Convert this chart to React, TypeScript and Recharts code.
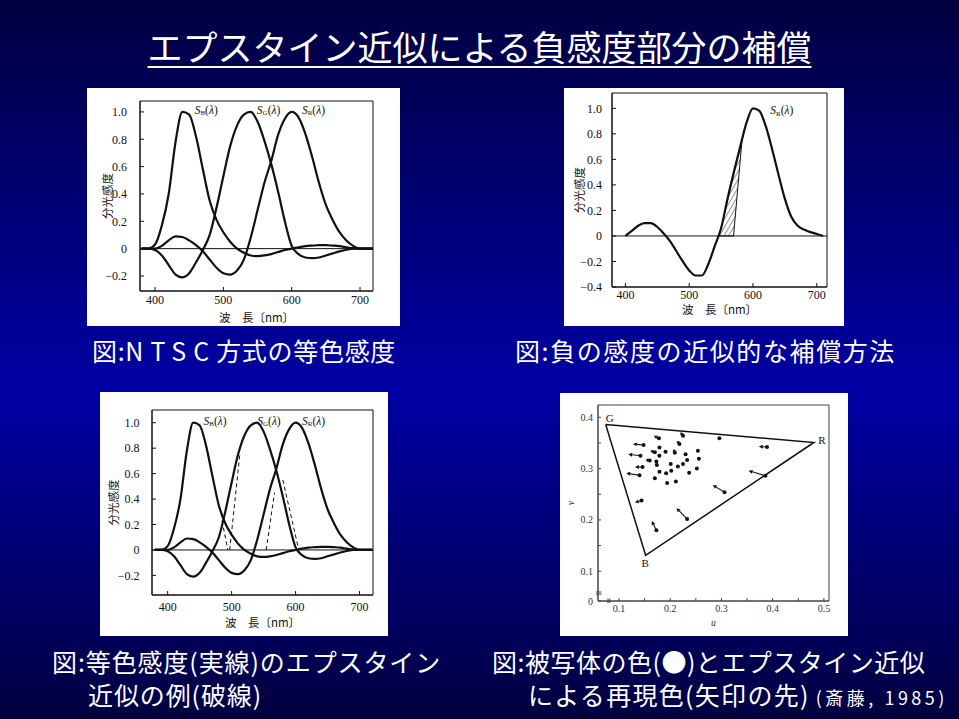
import React from 'react';
import {
  ComposedChart,
  Line,
  Area,
  XAxis,
  YAxis,
  ReferenceLine,
  ReferenceArea,
  ReferenceDot,
} from 'recharts';

// NTSC colour-matching curves (panels 1 and 3)
const wavelengths = [380, 390, 400, 410, 420, 430, 440, 450, 460, 470, 480, 490, 500, 510, 520, 530, 540, 550, 560, 570, 580, 590, 600, 610, 620, 630, 640, 650, 660, 670, 680, 690, 700, 710, 720];
const sbValues = [0, 0, 0.03, 0.17, 0.4, 0.78, 1.0, 0.98, 0.82, 0.58, 0.35, 0.21, 0.12, 0.05, 0.0, -0.03, -0.05, -0.055, -0.05, -0.04, -0.025, -0.01, 0.0, 0.01, 0.018, 0.022, 0.025, 0.025, 0.022, 0.018, 0.01, 0.003, 0, 0, 0];
const sgValues = [0, 0, -0.01, -0.05, -0.12, -0.19, -0.21, -0.18, -0.1, -0.01, 0.1, 0.3, 0.53, 0.75, 0.9, 0.98, 1.0, 0.93, 0.79, 0.62, 0.42, 0.2, 0.02, -0.04, -0.065, -0.07, -0.065, -0.05, -0.035, -0.02, -0.008, 0, 0, 0, 0];
const srValues = [0, 0, 0, 0.02, 0.06, 0.09, 0.085, 0.06, 0.025, -0.02, -0.08, -0.14, -0.18, -0.19, -0.16, -0.08, 0.08, 0.28, 0.48, 0.64, 0.83, 0.95, 1.0, 0.96, 0.84, 0.67, 0.48, 0.32, 0.21, 0.12, 0.06, 0.02, 0, 0, 0];

// single red curve with the compensated part (panel 2)
const skWavelengths = [400, 410, 420, 430, 440, 450, 460, 470, 480, 490, 500, 510, 520, 530, 540, 550, 560, 570, 580, 590, 600, 610, 620, 630, 640, 650, 660, 670, 680, 690, 700, 710];
const skValues = [0, 0.04, 0.08, 0.1, 0.1, 0.07, 0.02, -0.04, -0.12, -0.2, -0.27, -0.31, -0.31, -0.22, -0.08, 0.06, 0.29, 0.5, 0.7, 0.89, 1.0, 0.98, 0.86, 0.68, 0.48, 0.29, 0.15, 0.08, 0.05, 0.03, 0.015, 0];
const hatchWavelengths = [546, 552, 557, 562, 567, 569.5, 572, 575, 578, 581, 583];
const hatchTop = [0, 0.1, 0.21, 0.32, 0.43, 0.49, 0.54, 0.6, 0.66, 0.72, 0.76];
const hatchLow = [0, 0, 0, 0, 0, 0, 0.14, 0.31, 0.48, 0.65, 0.76];

// Epstein approximation (dashed) segments, panel 3
const epsSegWl = [[485, 494], [497, 513], [554, 567], [580, 605]];
const epsSegV = [[0.23, 0], [0, 0.76], [0, 0.45], [0.55, 0]];

// u-v diagram (panel 4)
const triangleU = [0.074, 0.4805, 0.152, 0.074];
const triangleV = [0.386, 0.351, 0.131, 0.386];
const objU = [0.178, 0.225, 0.296, 0.148, 0.218, 0.389, 0.179, 0.17, 0.191, 0.209, 0.254, 0.142, 0.23, 0.179, 0.256, 0.16, 0.173, 0.201, 0.233, 0.146, 0.174, 0.215, 0.225, 0.179, 0.192, 0.202, 0.237, 0.252, 0.14, 0.17, 0.194, 0.211, 0.386, 0.306, 0.144, 0.233, 0.173];
const objV = [0.359, 0.364, 0.359, 0.346, 0.348, 0.342, 0.341, 0.332, 0.333, 0.331, 0.335, 0.325, 0.328, 0.325, 0.319, 0.316, 0.314, 0.309, 0.317, 0.303, 0.307, 0.304, 0.309, 0.294, 0.291, 0.296, 0.292, 0.3, 0.287, 0.281, 0.272, 0.275, 0.286, 0.254, 0.238, 0.202, 0.18];
const tipU = [0.168, 0.22, 0.296, 0.127, 0.213, 0.373, 0.179, 0.161, 0.187, 0.207, 0.254, 0.118, 0.23, 0.175, 0.256, 0.152, 0.173, 0.201, 0.233, 0.131, 0.17, 0.215, 0.225, 0.179, 0.192, 0.202, 0.237, 0.252, 0.114, 0.17, 0.194, 0.211, 0.353, 0.283, 0.131, 0.212, 0.164];
const tipV = [0.364, 0.371, 0.359, 0.348, 0.354, 0.343, 0.341, 0.335, 0.333, 0.338, 0.335, 0.328, 0.328, 0.326, 0.319, 0.317, 0.314, 0.309, 0.317, 0.303, 0.309, 0.304, 0.309, 0.294, 0.291, 0.296, 0.292, 0.3, 0.291, 0.281, 0.272, 0.275, 0.296, 0.268, 0.234, 0.223, 0.198];

const wlTicks = [400, 500, 600, 700];
const specTicks = [-0.2, 0, 0.2, 0.4, 0.6, 0.8, 1.0];
const skTicks = [-0.4, -0.2, 0, 0.2, 0.4, 0.6, 0.8, 1.0];
const uTicks = [0.1, 0.15, 0.2, 0.25, 0.3, 0.35, 0.4, 0.45, 0.5];
const uDomain = [0.059, 0.51];
const vDomain = [0.042, 0.424];
const vTicks = [vDomain[0], 0.1, 0.15, 0.2, 0.25, 0.3, 0.35, 0.4];

const specRows = wavelengths.map((wl, i) => ({ wl, sb: sbValues[i], sg: sgValues[i], sr: srValues[i] }));
const skRows = skWavelengths.map((wl, i) => ({ wl, sk: skValues[i] }));
const hatchRows = hatchWavelengths.map((wl, i) => ({ wl, band: [hatchLow[i], hatchTop[i]] }));
const epsRows = epsSegWl.map((seg, k) => seg.map((wl, j) => ({ wl, v: epsSegV[k][j] })));
const triangleRows = triangleU.map((u, i) => ({ u, v: triangleV[i] }));
const objRows = objU.map((u, i) => ({ u, v: objV[i] }));
const arrowRows = objU
  .map((u, i) => ({ u0: u, v0: objV[i], u1: tipU[i], v1: tipV[i] }))
  .filter((a) => Math.hypot(a.u1 - a.u0, a.v1 - a.v0) > 0.004);

const serif = '"Liberation Serif", "DejaVu Serif", serif';
const jp = '"Noto Sans CJK JP", sans-serif';
const ink = '#111';
const tickFont = { fontFamily: serif, fontSize: 12, fill: ink };
const axisJp = { fontFamily: jp, fontSize: 11.5, fill: ink };

const fmtSpec = (v: number) => (Math.abs(v) < 1e-9 ? '0' : v < 0 ? `−${Math.abs(v).toFixed(1)}` : v.toFixed(1));
const fmtU = (v: number) => (Math.round(v * 100) % 10 === 0 ? v.toFixed(1) : '');
const fmtV = (v: number) => (v < 0.05 ? '0' : Math.round(v * 100) % 10 === 0 ? v.toFixed(1) : '');

const sLabel = (sub: string) => (p: any) => {
  const vb = p?.viewBox ?? {};
  const x = vb.x ?? p.x;
  const y = vb.y ?? p.y;
  return (
    <text x={x} y={y} fontFamily={serif} fontSize={11.5} fill={ink}>
      <tspan fontStyle="italic">S</tspan>
      <tspan fontSize={7} dy={1.5}>{sub}</tspan>
      <tspan dy={-1.5}>(</tspan>
      <tspan fontStyle="italic">λ</tspan>
      <tspan>)</tspan>
    </text>
  );
};

const arrowShape = (p: any) => {
  const { x1, y1, x2, y2 } = p;
  const dx = x2 - x1;
  const dy = y2 - y1;
  const len = Math.hypot(dx, dy);
  if (!len) return <g />;
  const ux = dx / len;
  const uy = dy / len;
  const hl = Math.min(4, len * 0.6);
  const hw = 2;
  const bx = x2 - ux * hl;
  const by = y2 - uy * hl;
  return (
    <g>
      <line x1={x1} y1={y1} x2={bx} y2={by} stroke={ink} strokeWidth={1.1} />
      <polygon points={`${x2},${y2} ${bx - uy * hw},${by + ux * hw} ${bx + uy * hw},${by - ux * hw}`} fill={ink} />
    </g>
  );
};

const curve = { type: 'monotone' as const, stroke: ink, strokeWidth: 2.2, dot: false, isAnimationActive: false };

function NtscChart() {
  return (
    <ComposedChart width={313} height={238} data={specRows} margin={{ top: 13, right: 27, bottom: 0, left: 0 }}>
      <XAxis dataKey="wl" type="number" domain={[378, 719]} allowDataOverflow ticks={wlTicks} height={35} stroke={ink}
        tickSize={-4} tickMargin={8.6} tick={tickFont}
        label={{ value: '波　長〔nm〕', position: 'insideBottom', offset: 4, style: axisJp }} />
      <YAxis type="number" domain={[-0.31, 1.08]} allowDataOverflow ticks={specTicks} width={53} stroke={ink}
        tickSize={-4} tickMargin={17} tick={tickFont} tickFormatter={fmtSpec}
        label={{ value: '分光感度', angle: -90, position: 'insideLeft', offset: 21, style: { ...axisJp, textAnchor: 'middle' } }} />
      <ReferenceArea x1={378} x2={719} y1={-0.31} y2={1.08} fill="none" stroke={ink} ifOverflow="visible" />
      <ReferenceLine y={0} stroke={ink} strokeWidth={1} />
      <Line dataKey="sb" {...curve} />
      <Line dataKey="sg" {...curve} />
      <Line dataKey="sr" {...curve} />
      <ReferenceDot x={458} y={0.985} r={0} ifOverflow="visible" label={sLabel('B')} />
      <ReferenceDot x={549} y={0.985} r={0} ifOverflow="visible" label={sLabel('G')} />
      <ReferenceDot x={615} y={0.985} r={0} ifOverflow="visible" label={sLabel('R')} />
    </ComposedChart>
  );
}

function CompensationChart() {
  return (
    <ComposedChart width={280} height={238} margin={{ top: 5, right: 17, bottom: 0, left: 0 }}>
      <defs>
        <pattern id="hatch" width={4} height={4} patternUnits="userSpaceOnUse" patternTransform="rotate(30)">
          <line x1={0} y1={0} x2={0} y2={4} stroke={ink} strokeWidth={0.9} />
        </pattern>
      </defs>
      <XAxis dataKey="wl" type="number" domain={[379, 716]} allowDataOverflow ticks={wlTicks} height={39} stroke={ink}
        tickSize={-4} tickMargin={7.3} tick={tickFont}
        label={{ value: '波　長〔nm〕', position: 'insideBottom', offset: 12, style: axisJp }} />
      <YAxis type="number" domain={[-0.4, 1.12]} allowDataOverflow ticks={skTicks} width={48} stroke={ink}
        tickSize={-4} tickMargin={14} tick={tickFont} tickFormatter={fmtSpec}
        label={{ value: '分光感度', angle: -90, position: 'insideLeft', offset: 16, style: { ...axisJp, textAnchor: 'middle' } }} />
      <ReferenceArea x1={379} x2={716} y1={-0.4} y2={1.12} fill="none" stroke={ink} ifOverflow="visible" />
      <Area data={hatchRows} dataKey="band" type="linear" fill="url(#hatch)" fillOpacity={1} stroke={ink} strokeWidth={1} isAnimationActive={false} />
      <ReferenceLine y={0} stroke={ink} strokeWidth={1} />
      <Line data={skRows} dataKey="sk" {...curve} />
      <ReferenceDot x={627} y={0.955} r={0} ifOverflow="visible" label={sLabel('R')} />
    </ComposedChart>
  );
}

function EpsteinChart() {
  return (
    <ComposedChart width={288} height={244} data={specRows} margin={{ top: 18, right: 15, bottom: 0, left: 0 }}>
      <XAxis dataKey="wl" type="number" domain={[375.5, 721]} allowDataOverflow ticks={wlTicks} height={41} stroke={ink}
        tickSize={-4} tickMargin={11.3} tick={tickFont}
        label={{ value: '波　長〔nm〕', position: 'insideBottom', offset: 9, style: axisJp }} />
      <YAxis type="number" domain={[-0.354, 1.1]} allowDataOverflow ticks={specTicks} width={52} stroke={ink}
        tickSize={-4} tickMargin={16.4} tick={tickFont} tickFormatter={fmtSpec}
        label={{ value: '分光感度', angle: -90, position: 'insideLeft', offset: 14, style: { ...axisJp, textAnchor: 'middle' } }} />
      <ReferenceArea x1={375.5} x2={721} y1={-0.354} y2={1.1} fill="none" stroke={ink} ifOverflow="visible" />
      <ReferenceLine y={0} stroke={ink} strokeWidth={1} />
      <Line dataKey="sb" {...curve} />
      <Line dataKey="sg" {...curve} />
      <Line dataKey="sr" {...curve} />
      {epsRows.map((rows, k) => (
        <Line key={`eps-${k}`} data={rows} dataKey="v" type="linear" stroke={ink} strokeWidth={1}
          strokeDasharray="4 3" dot={false} isAnimationActive={false} />
      ))}
      <ReferenceDot x={456} y={0.984} r={0} ifOverflow="visible" label={sLabel('B')} />
      <ReferenceDot x={540} y={0.984} r={0} ifOverflow="visible" label={sLabel('G')} />
      <ReferenceDot x={610} y={0.984} r={0} ifOverflow="visible" label={sLabel('R')} />
    </ComposedChart>
  );
}

const uvTick = { fontFamily: serif, fontSize: 10, fill: '#333' };
const vertexStyle = { fontFamily: serif, fontSize: 11, fill: ink };

function UvChart() {
  return (
    <ComposedChart width={288} height={243} margin={{ top: 12, right: 19, bottom: 0, left: 0 }}>
      <XAxis dataKey="u" type="number" domain={uDomain} allowDataOverflow ticks={uTicks} height={35} stroke="#444"
        tickSize={-3} tickMargin={7} tick={uvTick} tickFormatter={fmtU}
        label={{ value: 'u', position: 'insideBottom', offset: 10, style: { fontFamily: serif, fontSize: 10, fontStyle: 'italic', fill: '#333' } }} />
      <YAxis dataKey="v" type="number" domain={vDomain} allowDataOverflow ticks={vTicks} width={38} stroke="#444"
        tickSize={-3} tickMargin={8} tick={uvTick} tickFormatter={fmtV}
        label={{ value: 'v', angle: -90, position: 'insideLeft', offset: 10, style: { fontFamily: serif, fontSize: 10, fontStyle: 'italic', fill: '#333', textAnchor: 'middle' } }} />
      <ReferenceArea x1={uDomain[0]} x2={uDomain[1]} y1={vDomain[0]} y2={vDomain[1]} fill="none" stroke="#444" ifOverflow="visible" />
      <ReferenceLine segment={[{ x: 0.055, y: 0.0595 }, { x: 0.066, y: 0.0595 }]} stroke="#444" ifOverflow="visible" />
      <ReferenceLine segment={[{ x: 0.055, y: 0.0555 }, { x: 0.066, y: 0.0555 }]} stroke="#444" ifOverflow="visible" />
      <ReferenceLine segment={[{ x: 0.0785, y: 0.038 }, { x: 0.0785, y: 0.047 }]} stroke="#444" ifOverflow="visible" />
      <ReferenceLine segment={[{ x: 0.082, y: 0.038 }, { x: 0.082, y: 0.047 }]} stroke="#444" ifOverflow="visible" />
      <Line data={triangleRows} dataKey="v" type="linear" stroke={ink} strokeWidth={1.5} dot={false} isAnimationActive={false} />
      {arrowRows.map((a, i) => (
        <ReferenceLine key={`ar-${i}`} segment={[{ x: a.u0, y: a.v0 }, { x: a.u1, y: a.v1 }]} shape={arrowShape} ifOverflow="visible" />
      ))}
      <Line data={objRows} dataKey="v" stroke="none" dot={{ r: 2, fill: ink, stroke: 'none' }} activeDot={false} isAnimationActive={false} />
      <ReferenceDot x={0.082} y={0.398} r={0} ifOverflow="visible" label={{ value: 'G', position: 'center', style: vertexStyle }} />
      <ReferenceDot x={0.496} y={0.356} r={0} ifOverflow="visible" label={{ value: 'R', position: 'center', style: vertexStyle }} />
      <ReferenceDot x={0.151} y={0.116} r={0} ifOverflow="visible" label={{ value: 'B', position: 'center', style: vertexStyle }} />
    </ComposedChart>
  );
}

const panel = (left: number, top: number, width: number, height: number): React.CSSProperties => ({
  position: 'absolute', left, top, width, height, background: '#fff', overflow: 'hidden',
});

const caption = (left: number, top: number, spacing = 0.7): React.CSSProperties => ({
  position: 'absolute', left, top, fontSize: 25, lineHeight: '25px', letterSpacing: spacing, whiteSpace: 'nowrap', color: '#fff',
});

export default function App() {
  return (
    <div
      style={{
        position: 'absolute', left: 0, top: 0, width: 959, height: 719, overflow: 'hidden',
        background: 'linear-gradient(to bottom, #000040 0px, #0000a4 390px, #000040 719px)',
        fontFamily: jp, color: '#fff',
      }}
    >
      <div
        style={{
          position: 'absolute', left: 0, top: 28, width: 959, textAlign: 'center', fontSize: 35, lineHeight: '35px',
          textDecoration: 'underline', textDecorationThickness: 2, textUnderlineOffset: 5, whiteSpace: 'nowrap',
        }}
      >
        エプスタイン近似による負感度部分の補償
      </div>

      <div style={panel(87, 88, 313, 238)}><NtscChart /></div>
      <div style={panel(564, 88, 280, 238)}><CompensationChart /></div>
      <div style={panel(100, 392, 288, 244)}><EpsteinChart /></div>
      <div style={panel(560, 393, 288, 243)}><UvChart /></div>

      <div style={caption(92, 338)}>
        図:<span style={{ letterSpacing: 7 }}>NTSC</span>方式の等色感度
      </div>
      <div style={caption(515, 338, 1.6)}>図:負の感度の近似的な補償方法</div>
      <div style={caption(52, 649, 0.9)}>図:等色感度(実線)のエプスタイン</div>
      <div style={caption(88, 682, 0.9)}>近似の例(破線)</div>
      <div style={caption(492, 649, 0.5)}>図:被写体の色(●)とエプスタイン近似</div>
      <div style={caption(528, 682, 1.3)}>
        による再現色(矢印の先)<span style={{ fontSize: 18, letterSpacing: 3.5, marginLeft: 6 }}>(斎藤, 1985)</span>
      </div>
    </div>
  );
}
